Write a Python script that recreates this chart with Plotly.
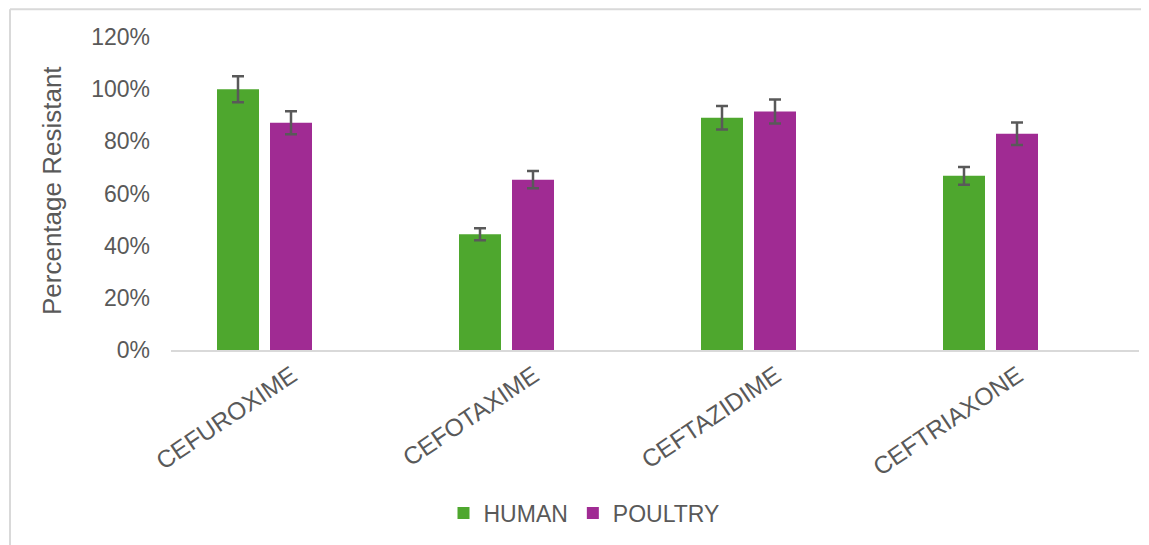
import plotly.graph_objects as go

categories = ["CEFUROXIME", "CEFOTAXIME", "CEFTAZIDIME", "CEFTRIAXONE"]
human = [1.00, 0.444, 0.89, 0.668]
human_err = [0.05, 0.023, 0.045, 0.034]
poultry = [0.871, 0.653, 0.914, 0.829]
poultry_err = [0.044, 0.033, 0.046, 0.043]
ytick_vals = [0, 0.2, 0.4, 0.6, 0.8, 1.0, 1.2]
ytick_text = ["0%", "20%", "40%", "60%", "80%", "100%", "120%"]

TXT = "#595959"
FONT = "Liberation Sans, Arial, sans-serif"

# bar geometry in category units (category = 242 px, bar = 42 px)
BAR_W = 42 / 242
fig = go.Figure()
fig.add_trace(go.Bar(
    x=categories, y=human, name="HUMAN", marker=dict(color="#4EA72E", line=dict(width=0)),
    width=BAR_W, offset=-75 / 242,
    error_y=dict(type="data", array=human_err, visible=True, color=TXT, thickness=2.5, width=6),
))
fig.add_trace(go.Bar(
    x=categories, y=poultry, name="POULTRY", marker=dict(color="#A02B93", line=dict(width=0)),
    width=BAR_W, offset=-22 / 242,
    error_y=dict(type="data", array=poultry_err, visible=True, color=TXT, thickness=2.5, width=6),
))

# page body has an 8px margin; work in reference pixel coords shifted by OFF
OFF = 8
W, H = 1149 - OFF, 545 - OFF
L, T = 171 - OFF, 37 - OFF
R = W - (1139 - OFF)
B = H - (352 - OFF)
pw, ph = W - L - R, H - T - B

def px_x(x):
    return (x - OFF - L) / pw

def px_y(y):
    return (H - B - (y - OFF)) / ph

fig.update_layout(
    width=W, height=H,
    margin=dict(l=L, r=R, t=T, b=B),
    paper_bgcolor="white", plot_bgcolor="white",
    font=dict(family=FONT, color=TXT, size=22),
    barmode="overlay",
    showlegend=True,
    legend=dict(orientation="h", x=px_x(584), xanchor="center", y=px_y(516), yanchor="middle",
                font=dict(size=23, color=TXT), itemwidth=30, traceorder="normal"),
    xaxis=dict(showline=True, linecolor="#d9d9d9", linewidth=1.5, tickangle=-34,
               tickfont=dict(size=24.5, color=TXT), showgrid=False, ticks=""),
    yaxis=dict(range=[0, 1.2], tickvals=ytick_vals, ticktext=ytick_text, showgrid=False,
               zeroline=False, showline=False, tickfont=dict(size=23, color=TXT),
               ticklabelstandoff=20, ticks=""),
    annotations=[dict(text="Percentage Resistant", xref="paper", yref="paper",
                      x=px_x(52), y=px_y(192), textangle=-90, showarrow=False,
                      font=dict(size=26, color=TXT), xanchor="center", yanchor="middle")],
    shapes=[
        dict(type="line", xref="paper", yref="paper", x0=px_x(10), x1=px_x(1160), y0=px_y(9), y1=px_y(9),
             line=dict(color="#d9d9d9", width=2)),
        dict(type="line", xref="paper", yref="paper", x0=px_x(10), x1=px_x(10), y0=px_y(9), y1=px_y(560),
             line=dict(color="#d9d9d9", width=2)),
    ],
)

fig.write_html("out.html")
